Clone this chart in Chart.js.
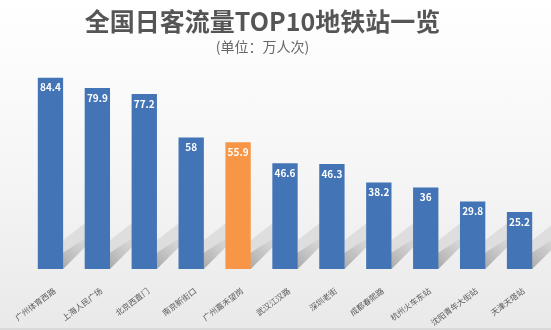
<!DOCTYPE html>
<html><head><meta charset="utf-8">
<script src="https://cdn.jsdelivr.net/npm/chart.js@4"></script>
<style>
html,body{margin:0;padding:0;}
body{width:551px;height:330px;background:linear-gradient(#ffffff 0%,#f6f6f6 50%,#e9e9e9 100%);}
#wrap{position:relative;width:551px;height:328px;border-bottom:2px solid #d9d9d9;}
canvas{display:block;}
.t{position:absolute;left:0;width:525px;text-align:center;font-family:'Noto Sans CJK SC',sans-serif;white-space:nowrap;}
#title{top:5px;font-size:25px;line-height:30px;font-weight:bold;color:#555555;}
#sub{top:37px;font-size:14px;line-height:18px;color:#666666;}
</style></head>
<body><div id="wrap"><canvas id="c" width="551" height="328"></canvas>
<div class="t" id="title"></div><div class="t" id="sub"></div></div>
<script>
const categories = ["广州体育西路","上海人民广场","北京西直门","南京新街口","广州嘉禾望岗","武汉江汉路","深圳老街","成都春熙路","杭州火车东站","沈阳青年大街站","天津天塔站"];
const values = [84.4,79.9,77.2,58,55.9,46.6,46.3,38.2,36,29.8,25.2];
const highlightIndex = 4;
const titleText = "全国日客流量TOP10地铁站一览";
const subtitleText = "(单位：万人次)";

document.getElementById('title').textContent = titleText;
document.getElementById('sub').textContent = subtitleText;

const FONT = "'Noto Sans CJK SC','Microsoft YaHei',sans-serif";

const shadowPlugin = {
  id:'shadow',
  beforeDatasetsDraw(chart){
    const ctx = chart.ctx;
    const meta = chart.getDatasetMeta(0);
    ctx.save();
    meta.data.forEach(bar=>{
      const w = bar.width;
      const x0 = bar.x - w/2, x1 = bar.x + w/2;
      const b = bar.base;
      const len = 32;
      const g = ctx.createLinearGradient(x1, b, x1+len, b-len);
      g.addColorStop(0,'rgba(110,110,110,0.5)');
      g.addColorStop(1,'rgba(170,170,170,0)');
      ctx.fillStyle = g;
      ctx.beginPath();
      ctx.moveTo(x0, b);
      ctx.lineTo(x1, b);
      ctx.lineTo(x1+len, b-len);
      ctx.lineTo(x1+len-w*0.3, b-len);
      ctx.closePath();
      ctx.fill();
      ctx.beginPath();
      ctx.moveTo(x1, b);
      ctx.lineTo(x1, b-len*0.9);
      ctx.lineTo(x1+len*0.9, b-len*1.6);
      ctx.lineTo(x1+len, b-len);
      ctx.closePath();
      ctx.fillStyle='rgba(150,150,150,0.2)';
      ctx.fill();
    });
    ctx.restore();
  }
};

const labelPlugin = {
  id:'vals',
  afterDatasetsDraw(chart){
    const ctx = chart.ctx;
    const meta = chart.getDatasetMeta(0);
    ctx.save();
    ctx.font = "bold 10px " + FONT;
    ctx.fillStyle = "#ffffff";
    ctx.textAlign = "center";
    ctx.textBaseline = "middle";
    meta.data.forEach((bar,i)=>{
      ctx.fillText(String(values[i]), bar.x, bar.y + 10);
    });
    ctx.restore();
  }
};

new Chart(document.getElementById('c'), {
  type:'bar',
  data:{
    labels: categories,
    datasets:[{
      data: values,
      backgroundColor: values.map((v,i)=> i===highlightIndex ? '#f79646' : '#4274b6'),
      borderWidth:0,
      barPercentage:0.54,
      categoryPercentage:1.0
    }]
  },
  options:{
    responsive:false,
    animation:false,
    devicePixelRatio:1,
    layout:{padding:{left:27,right:8,top:65,bottom:0}},
    plugins:{
      legend:{display:false},
      tooltip:{enabled:false},
      title:{display:false},
      subtitle:{display:false}
    },
    scales:{
      x:{
        grid:{display:false,drawBorder:false},
        border:{display:false},
        ticks:{color:'#595959',font:{family:FONT,size:8},maxRotation:37,minRotation:37,padding:9,labelOffset:4,autoSkip:false},
        afterFit(scale){ scale.height = 59; }
      },
      y:{
        display:false,
        min:0,max:90
      }
    }
  },
  plugins:[shadowPlugin,labelPlugin]
});
</script></body></html>
